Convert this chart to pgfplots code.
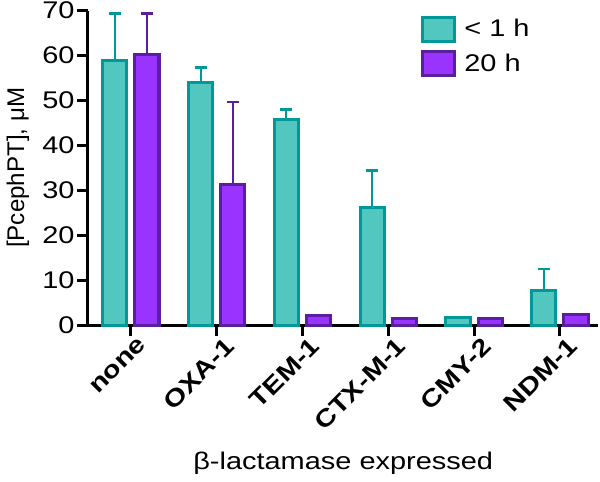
\documentclass[border=0pt]{standalone}
\usepackage{pgfplots}
\pgfplotsset{compat=1.18}
\usepackage{fontspec}
\setmainfont{Liberation Sans}[FakeStretch=1.2]
\newfontfamily\plainfont{Liberation Sans}
\definecolor{tealfill}{HTML}{52C7BF}
\definecolor{tealedge}{HTML}{009999}
\definecolor{purfill}{HTML}{9933FF}
\definecolor{puredge}{HTML}{5A1E9E}
\begin{document}
\begin{tikzpicture}
\begin{axis}[
  scale only axis,
  width=254pt, height=156.5pt,
  xmin=-0.5, xmax=5.45,
  ymin=0, ymax=70,
  ytick={0,10,...,70},
  xtick={0,1,2,3,4,5},
  xticklabels={none,OXA-1,TEM-1,CTX-M-1,CMY-2,NDM-1},
  x tick label style={rotate=45, anchor=north east, font=\fontsize{12}{14}\selectfont\bfseries, inner sep=0.5pt, xshift=3pt, yshift=-2pt},
  y tick label style={font=\fontsize{12}{14}\selectfont, inner sep=1pt},
  /pgf/number format/assume math mode=true,
  axis lines=left,
  axis line style={-, line width=1.5pt},
  tick style={black, line width=1.5pt},
  major tick length=5.5pt,
  tick align=outside,
  ylabel={\plainfont [PcephPT], μM},
  xlabel={β-lactamase expressed},
  label style={font=\fontsize{12}{14}\selectfont},
  xlabel style={yshift=-6pt},
  ylabel style={yshift=2pt},
  ybar, bar width=12pt,
  legend cell align=left,
  legend style={at={(0.64,1.0)}, anchor=north west, draw=none, fill=none, font=\fontsize{12}{14}\selectfont, row sep=3pt, column sep=2pt},
  legend image code/.code={\draw[#1, line width=1.5pt] (0pt,-6pt) rectangle (16pt,6pt);},
  clip=false,
]
\addplot[bar shift=-8pt, fill=tealfill, draw=tealedge, line width=1.5pt,
  error bars/.cd, y dir=plus, y explicit, error bar style={line width=1pt, tealedge}, error mark options={rotate=90, mark size=3pt, line width=1.2pt, tealedge}]
  coordinates {(0,58.8) +- (0,10.5) (1,54.0) +- (0,3.3) (2,45.7) +- (0,2.3) (3,26.1) +- (0,8.3) (4,1.6) +- (0,0) (5,7.6) +- (0,4.9)};
\addplot[bar shift=8pt, fill=purfill, draw=puredge, line width=1.5pt,
  error bars/.cd, y dir=plus, y explicit, error bar style={line width=1pt, puredge}, error mark options={rotate=90, mark size=3pt, line width=1.2pt, puredge}]
  coordinates {(0,60.3) +- (0,9.0) (1,31.3) +- (0,18.3) (2,2.1) +- (0,0) (3,1.5) +- (0,0) (4,1.4) +- (0,0) (5,2.4) +- (0,0)};
\legend{< 1 h, 20 h}
\end{axis}
\end{tikzpicture}
\end{document}
